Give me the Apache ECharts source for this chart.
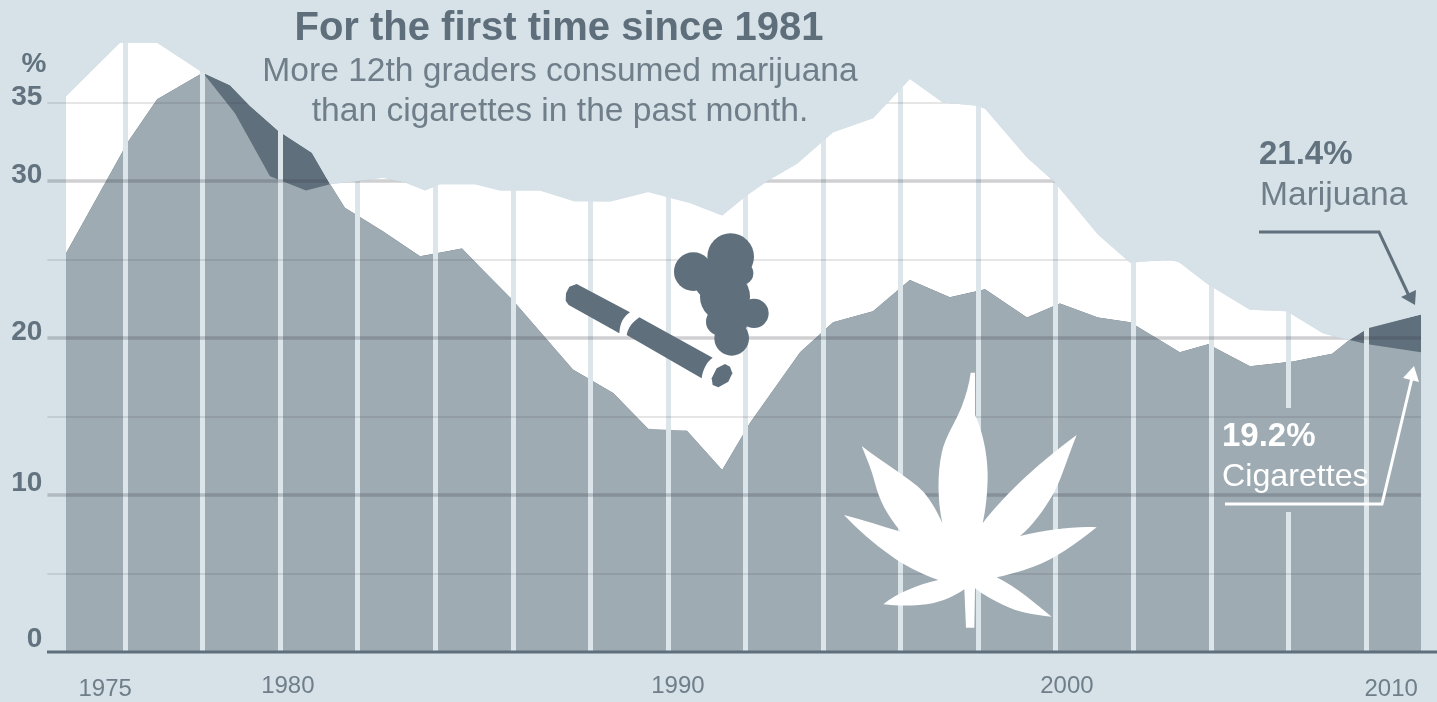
<!DOCTYPE html>
<html><head><meta charset="utf-8">
<style>html,body{margin:0;padding:0;background:#d6e2e8}#c{width:1437px;height:702px}</style>
<script src="https://cdn.jsdelivr.net/npm/echarts@6/dist/echarts.min.js"></script>
</head><body><div id="c"></div>
<script>
// Values (x in chart years, y in percent)
const cigYears = [1974.48,1975.87,1976.83,1978.01,1978.84,1979.74,1980.67,1981.29,1982.03,1982.65,1983.22,1983.74,1984.12,1985.03,1985.67,1986.70,1987.60,1988.51,1989.49,1990.57,1991.40,1992.04,1992.63,1993.33,1994.26,1995.29,1996.24,1997.09,1997.97,1998.18,1999.26,1999.98,2001.09,2001.92,2002.95,2003.20,2003.93,2005.01,2005.96,2006.89,2007.33,2008.05,2009.42];
const cigarettes = [35.4,38.8,38.8,36.9,34.3,30.3,29.4,29.8,30.0,30.2,29.9,29.4,29.8,29.8,29.4,29.4,28.7,28.7,29.3,28.6,27.8,29.1,30.1,31.1,33.1,34.0,36.5,35.0,34.8,34.6,31.5,29.9,26.6,24.8,25.0,24.8,23.4,21.8,21.7,20.3,20.0,19.6,19.1];
const marYears = [1974.48,1976.08,1976.83,1978.01,1978.71,1979.22,1979.95,1980.82,1981.29,1981.67,1982.65,1983.61,1984.69,1985.16,1986.00,1987.55,1988.59,1989.54,1990.49,1991.40,1992.12,1993.41,1994.26,1995.29,1996.24,1997.27,1998.18,1999.26,2000.11,2001.09,2001.92,2003.20,2003.93,2005.01,2006.12,2007.13,2007.59,2008.10,2009.42];
const marijuana = [25.4,32.5,35.2,36.9,36.1,34.8,33.2,31.8,29.8,28.3,26.8,25.2,25.7,24.5,22.4,18.0,16.5,14.1,14.1,11.6,14.6,19.1,21.0,21.7,23.7,22.6,23.1,21.3,22.2,21.3,21.0,19.1,19.6,18.2,18.5,19.0,19.9,20.7,21.5];
const xLabelPositions = [1975.49,1980.20,1990.26,2000.29,2008.65];
const xLabels = ['1975','1980','1990','2000','2010'];
const xLabelStyles = ['low','top','top','top','low'];
const yLabelValues = [0,10,20,30,35];
const yLabelStyles = {0:'s13',10:'s12',20:'s6',30:'s6',35:'s5'};

const BG='#d6e2e8', GRAY='#9eabb2', DARK='#5f6f7c', TXT='#62727e', SUB='#6f7e89';
const FONT='"Liberation Sans", Arial, sans-serif';

function interp(xs,ys,x){
  for(let i=1;i<xs.length;i++) if(x<=xs[i]){const t=(x-xs[i-1])/(xs[i]-xs[i-1]);return ys[i-1]+t*(ys[i]-ys[i-1]);}
  return ys[ys.length-1];
}
// Outlines of the overlap and of the outer edge, taken from the two read series
function combine(pick){
  const xs=[...new Set([...cigYears,...marYears])].sort((a,b)=>a-b), all=[];
  xs.forEach((x,i)=>{
    if(i){const p=xs[i-1],d0=interp(cigYears,cigarettes,p)-interp(marYears,marijuana,p),d1=interp(cigYears,cigarettes,x)-interp(marYears,marijuana,x);
      if(d0*d1<0) all.push(p+(x-p)*d0/(d0-d1));}
    all.push(x);
  });
  return all.map(x=>[x,pick(interp(cigYears,cigarettes,x),interp(marYears,marijuana,x))]);
}
const pairs=(xs,ys)=>xs.map((x,i)=>[x,ys[i]]);
const area=(name,data,color,z,origin)=>({name,type:'line',data,z,silent:true,showSymbol:false,symbol:'none',
  lineStyle:{width:0},areaStyle:{color,opacity:1,origin:origin||'auto'}});
const text=(t,x,y,size,weight,color,align)=>({type:'text',z:20,x,y,style:{text:t,font:`${weight} ${size}px ${FONT}`,fill:color,textAlign:align||'left',textVerticalAlign:'middle'}});

const leaf='M452 38L465 38L465 165C485 205 503 280 503 340C503 400 497 450 488 490C540 420 640 320 770 225C740 300 720 370 695 410C670 450 640 495 600 528C680 510 760 498 830 502C770 550 700 600 640 620C600 635 560 645 530 652C590 680 650 735 695 770C640 765 590 755 550 735C520 720 490 705 465 685L463 803L438 803L433 688C400 710 370 725 320 733C280 738 230 738 190 733C230 700 290 675 355 660C300 640 250 615 210 585C160 550 115 510 72 465C130 480 190 500 243 515C200 465 178 420 165 370C155 330 140 295 125 258C190 310 265 350 310 395C335 425 355 460 367 490C352 420 352 340 365 280C375 230 405 190 425 140C438 105 448 70 452 38Z';
const cigA='M290 672L450 757C430 770 420 790 418 820L266 735L257 722L258 700L268 680Z';
const cigB='M478 772L698 893C680 905 668 930 665 955L440 825C445 800 460 785 478 772Z';
const cigC='M735 912L750 920L757 940L745 965L715 982L698 975L695 955L710 925Z';
const puffs=[[752,590,70],[640,635,58],[735,710,75],[720,785,42],[755,835,52],[822,760,44],[725,640,60],[690,670,45],[755,775,52],[785,640,35]];

// pictures drawn in the coordinates of their own crop
const pathEl=(pathData,fill)=>{
  const nums=pathData.match(/-?\d+(\.\d+)?/g).map(Number), xs=nums.filter((n,i)=>i%2==0), ys=nums.filter((n,i)=>i%2==1);
  const x=Math.min(...xs), y=Math.min(...ys);
  return {type:'path',shape:{pathData,layout:'cover',x,y,width:Math.max(...xs)-x,height:Math.max(...ys)-y},style:{fill}};
};
const iconSeries={type:'custom',coordinateSystem:'none',silent:true,z:20,data:[0],clip:false,
  renderItem:()=>({type:'group',children:[
    {type:'group',x:820,y:360,scaleX:1/3,scaleY:1/3,children:[pathEl(leaf,'#fff')]},
    {type:'group',x:480,y:60,scaleX:1/3,scaleY:1/3,children:[
      ...puffs.map(p=>({type:'circle',shape:{cx:p[0],cy:p[1],r:p[2]},style:{fill:DARK}})),
      pathEl(cigA,DARK),pathEl(cigB,DARK),pathEl(cigC,DARK)]}
  ]})};

const yStyle=pad=>({fontFamily:FONT,fontWeight:'bold',fontSize:28,color:TXT,padding:[0,0,pad,0]});
const chart=echarts.init(document.getElementById('c'),null,{renderer:'canvas'});
chart.setOption({
  animation:false,backgroundColor:BG,
  grid:{left:47.4,right:16,top:24,bottom:50,containLabel:false},
  xAxis:{type:'value',min:1974,max:2009.42,interval:2,z:4,
    axisLine:{show:false},axisTick:{show:false},
    splitLine:{show:true,showMinLine:false,showMaxLine:false,lineStyle:{color:'#dbe5ea',width:5}},
    axisLabel:{customValues:xLabelPositions,margin:22,
      formatter:v=>{const i=xLabelPositions.indexOf(v);return i<0?'':`{${xLabelStyles[i]}|${xLabels[i]}}`;},
      rich:{
        top:{fontFamily:FONT,fontSize:24,color:SUB},
        low:{fontFamily:FONT,fontSize:24,color:SUB,padding:[3,0,0,0]}
      }}},
  yAxis:{type:'value',min:0,max:40,interval:10,z:5,
    axisLine:{show:false},axisTick:{show:false},
    splitLine:{show:true,showMinLine:false,showMaxLine:false,lineStyle:{color:'rgba(60,60,70,0.24)',width:3.5}},
    minorTick:{show:false,splitNumber:2},
    minorSplitLine:{show:true,lineStyle:{color:'rgba(60,60,70,0.13)',width:2}},
    axisLabel:{customValues:yLabelValues,margin:5,
      formatter:v=>`{${yLabelStyles[v]}|${v}}`,
      rich:{s5:yStyle(10),s6:yStyle(12),s12:yStyle(24),s13:yStyle(26)}}},
  series:[
    area('Cigarettes',pairs(cigYears,cigarettes),'#ffffff',1),
    area('Marijuana',pairs(marYears,marijuana),DARK,2),
    area('Both',combine(Math.min),GRAY,3),
    area('Outside',combine(Math.max),BG,6,'end'),
    iconSeries
  ],
  graphic:{elements:[
    {type:'rect',z:4.5,shape:{x:1285,y:408,width:8,height:104},style:{fill:GRAY},silent:true},
    {type:'line',z:7,shape:{x1:47,y1:652,x2:1437,y2:652},style:{stroke:DARK,lineWidth:3}},
    text('%',34,64,28,'bold',TXT,'center'),
    text('For the first time since 1981',559,29,40,'bold','#5e6e7a','center'),
    text('More 12th graders consumed marijuana',560,72,33.6,'normal',SUB,'center'),
    text('than cigarettes in the past month.',560,112,33.6,'normal',SUB,'center'),
    text('21.4%',1259,155,33,'bold',TXT),
    text('Marijuana',1260,196,33.6,'normal',SUB),
    text('19.2%',1222,437,33,'bold','#ffffff'),
    text('Cigarettes',1222,477,32.2,'normal','#ffffff'),
    {type:'polyline',z:20,shape:{points:[[1259,232],[1379,232],[1410,298]]},style:{stroke:DARK,lineWidth:3,fill:null}},
    {type:'polygon',z:20,shape:{points:[[1401,297],[1416,290],[1415,305]]},style:{fill:DARK}},
    {type:'polyline',z:20,shape:{points:[[1225,504],[1382,504],[1412,378]]},style:{stroke:'#fff',lineWidth:3,fill:null}},
    {type:'polygon',z:20,shape:{points:[[1403,378],[1419,382],[1414,366]]},style:{fill:'#fff'}}
  ]}
});
</script></body></html>
